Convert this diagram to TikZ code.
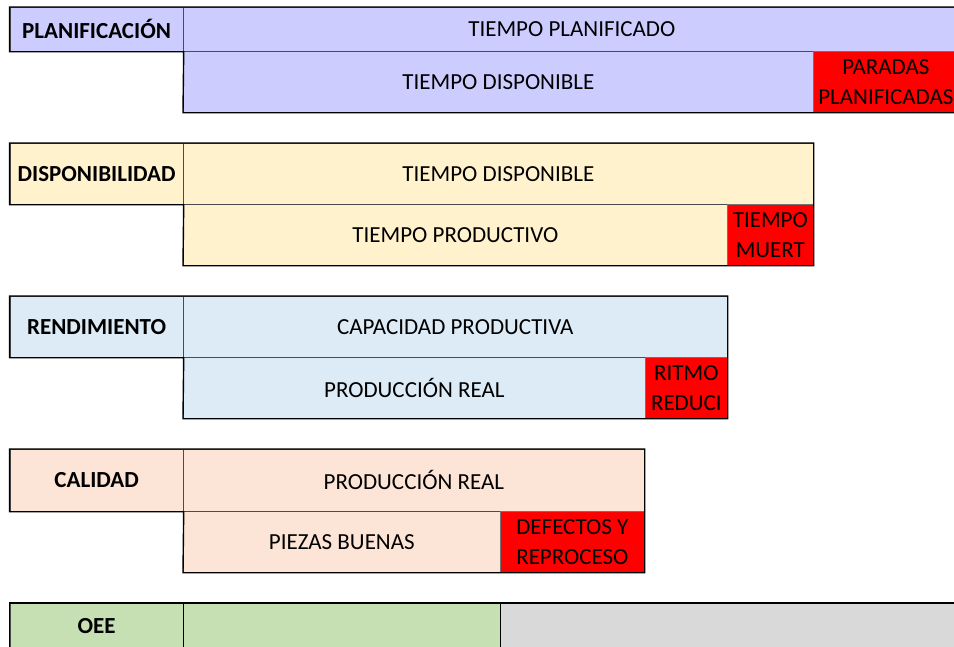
\documentclass[tikz,border=0pt]{standalone}
\usepackage{fontspec}
\setmainfont{Carlito}
\definecolor{plan}{HTML}{CCCCFF}
\definecolor{disp}{HTML}{FFF2CC}
\definecolor{rend}{HTML}{DDEBF7}
\definecolor{cali}{HTML}{FCE4D6}
\definecolor{oeeg}{HTML}{C6E0B4}
\definecolor{grayc}{HTML}{D9D9D9}
\definecolor{redc}{HTML}{FF0000}
\begin{document}
\begin{tikzpicture}[x=1pt,y=-1pt,
  cell/.style={draw=black!70, line width=0.7pt, anchor=north west, inner sep=0pt,
    font=\fontsize{23}{30}\selectfont, align=center},
  lab/.style={cell, font=\bfseries\fontsize{23}{30}\selectfont},
  redcell/.style={cell, fill=redc, draw=black!55},
  frame/.style={draw=black, line width=1.4pt, line join=miter}]
\useasboundingbox (0,0) rectangle (954,646);
\clip (0,0) rectangle (954,646);

% PLANIFICACION
\node[lab, fill=plan, minimum width=173.5, minimum height=44] (plab) at (9.5,7) {PLANIFICACIÓN};
\node[cell, fill=plan, minimum width=777, minimum height=44] (p1) at (183,7) {TIEMPO PLANIFICADO};
\node[cell, fill=plan, minimum width=630, minimum height=61] (p2) at (183,51) {TIEMPO DISPONIBLE};
\node[redcell, minimum width=145, minimum height=61] (p3) at (813,51) {PARADAS\\PLANIFICADAS};
\draw[frame] (plab.north west) -- (p1.north east) -- (p3.south east) -- (p2.south west) -- (plab.south east) -- (plab.south west) -- cycle;

% DISPONIBILIDAD
\node[lab, fill=disp, minimum width=173.5, minimum height=61] (dlab) at (9.5,143) {DISPONIBILIDAD};
\node[cell, fill=disp, minimum width=630, minimum height=61] (d1) at (183,143) {TIEMPO DISPONIBLE};
\node[cell, fill=disp, minimum width=544, minimum height=61] (d2) at (183,204) {TIEMPO PRODUCTIVO};
\node[redcell, minimum width=86, minimum height=61] (d3) at (727,204) {TIEMPO\\MUERT};
\draw[frame] (dlab.north west) -- (d1.north east) -- (d3.south east) -- (d2.south west) -- (dlab.south east) -- (dlab.south west) -- cycle;

% RENDIMIENTO
\node[lab, fill=rend, minimum width=173.5, minimum height=61] (rlab) at (9.5,296) {RENDIMIENTO};
\node[cell, fill=rend, minimum width=544, minimum height=61] (r1) at (183,296) {CAPACIDAD PRODUCTIVA};
\node[cell, fill=rend, minimum width=462, minimum height=61] (r2) at (183,357) {PRODUCCIÓN REAL};
\node[redcell, minimum width=82, minimum height=61] (r3) at (645,357) {RITMO\\REDUCI};
\draw[frame] (rlab.north west) -- (r1.north east) -- (r3.south east) -- (r2.south west) -- (rlab.south east) -- (rlab.south west) -- cycle;

% CALIDAD
\node[lab, fill=cali, minimum width=173.5, minimum height=62] (clab) at (9.5,449) {CALIDAD};
\node[cell, fill=cali, minimum width=461, minimum height=62] (c1) at (183,449) {PRODUCCIÓN REAL};
\node[cell, fill=cali, minimum width=317, minimum height=61] (c2) at (183,511) {PIEZAS BUENAS};
\node[redcell, minimum width=144, minimum height=61] (c3) at (500,511) {DEFECTOS Y\\REPROCESO};
\draw[frame] (clab.north west) -- (c1.north east) -- (c3.south east) -- (c2.south west) -- (clab.south east) -- (clab.south west) -- cycle;

% OEE
\node[lab, fill=oeeg, minimum width=173.5, minimum height=46] (olab) at (9.5,603) {OEE};
\node[cell, fill=oeeg, minimum width=317, minimum height=46] (o1) at (183,603) {};
\node[cell, fill=grayc, minimum width=460, minimum height=46] (o2) at (500,603) {};
\draw[frame] (olab.south west) -- (olab.north west) -- (o2.north east);
\draw[frame] (olab.north east) -- (olab.south east);
\draw[frame] (o1.north east) -- (o1.south east);
\end{tikzpicture}
\end{document}
